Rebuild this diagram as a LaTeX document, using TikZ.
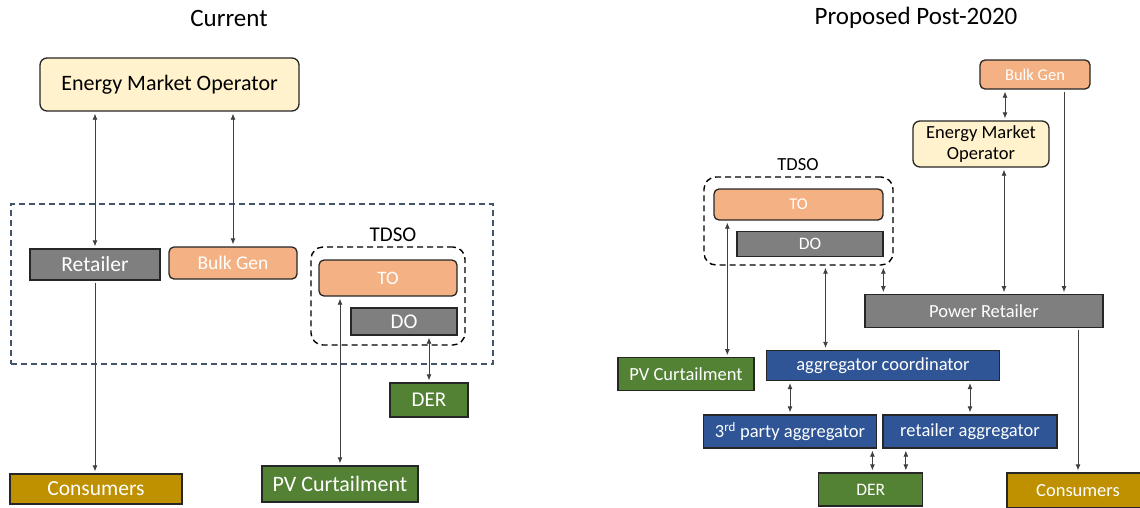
\documentclass[tikz,border=0pt]{standalone}
\usepackage{fontspec}
\setmainfont{Carlito}
\usetikzlibrary{arrows.meta}
\definecolor{emoyellow}{HTML}{FFF2CC}
\definecolor{retgray}{HTML}{7F7F7F}
\definecolor{genorange}{HTML}{F4B183}
\definecolor{dergreen}{HTML}{548235}
\definecolor{aggblue}{HTML}{2F5597}
\definecolor{congold}{HTML}{BF9000}
\definecolor{zoneblue}{HTML}{44546A}
\newcommand{\fsz}[1]{\fontsize{#1}{#1}\selectfont}

\begin{document}
\begin{tikzpicture}[x=1pt, y=-1pt,
  box/.style={draw=black!85, line width=1.3pt, inner sep=0pt, text=white},
  soft/.style={box, rounded corners=5pt},
  link/.style={draw=black!75, line width=0.8pt, shorten <=2pt, shorten >=2pt},
  zone/.style={line width=1.4pt, dash pattern=on 6pt off 4pt, inner sep=0pt},
  >={Latex[length=6pt,width=5pt]}]
\useasboundingbox (0,0) rectangle (1140,507);
\clip (0,0) rectangle (1140,507);

% titles
\node[font=\fsz{25}] (curT) at (229,18) {Current};
\node[font=\fsz{25}] (newT) at (916,18) {Proposed Post-2020};

%%%% current
\node[zone, draw=zoneblue, minimum width=482pt, minimum height=160pt] (zoneL) at (252,284) {};
\node[soft, fill=emoyellow, text=black, rounded corners=7pt, minimum width=259pt, minimum height=53pt, font=\fsz{22}] (emoL) at (169.5,84.5) {Energy Market Operator};
\node[box, fill=retgray, minimum width=130pt, minimum height=31pt, font=\fsz{21.5}] (retL) at (95,264.5) {Retailer};
\node[soft, fill=genorange, minimum width=128pt, minimum height=32pt, font=\fsz{19.5}] (bgL) at (233,263) {Bulk Gen};

% tdso group
\node[font=\fsz{21}] (tdsoTL) at (393,235) {TDSO};
\node[zone, draw=black, rounded corners=12pt, minimum width=154pt, minimum height=98pt] (tdsoL) at (388,296) {};
\node[soft, fill=genorange, minimum width=138pt, minimum height=36pt, font=\fsz{19}] (toL) at (388,278) {TO};
\node[box, fill=retgray, minimum width=106pt, minimum height=27pt, font=\fsz{21}] (doL) at (404,321.5) {DO};

\node[box, fill=dergreen, minimum width=78pt, minimum height=34pt, font=\fsz{21}] (derL) at (429,400) {DER};
\node[box, fill=dergreen, minimum width=156pt, minimum height=36pt, font=\fsz{22}] (pvL) at (340,484) {PV Curtailment};
\node[box, fill=congold, minimum width=172pt, minimum height=30pt, font=\fsz{21.5}] (conL) at (96,489) {Consumers};

% links
\draw[link, <->] (retL.north) -- (retL.north |- emoL.south);
\draw[link, <->] (bgL.north) -- (bgL.north |- emoL.south);
\draw[link, ->] (retL.south) -- (retL.south |- conL.north);
\draw[link, <->] (pvL.north) -- (pvL.north |- toL.south);
\draw[link, <->] (derL.north) -- (derL.north |- doL.south);

%%%% proposed
\node[soft, fill=genorange, minimum width=110pt, minimum height=29pt, font=\fsz{16.5}] (bgR) at (1035,74.5) {Bulk Gen};
\node[soft, fill=emoyellow, text=black, rounded corners=7pt, minimum width=136pt, minimum height=46pt, align=center, font=\fsz{18.5}] (emoR) at (981,144) {Energy Market\\[2pt]Operator};

% tdso group
\node[font=\fsz{18.5}] (tdsoTR) at (798,165) {TDSO};
\node[zone, draw=black, rounded corners=12pt, minimum width=189pt, minimum height=88pt] (tdsoR) at (798.5,221) {};
\node[soft, fill=genorange, minimum width=169pt, minimum height=31pt, font=\fsz{16.5}] (toR) at (798.5,204.5) {TO};
\node[box, fill=retgray, minimum width=146pt, minimum height=25pt, font=\fsz{17.5}] (doR) at (810,244) {DO};

\node[box, fill=retgray, minimum width=238pt, minimum height=32.5pt, font=\fsz{18.5}] (prR) at (984,311) {Power Retailer};
\node[box, fill=dergreen, minimum width=136pt, minimum height=32.5pt, font=\fsz{18.5}] (pvR) at (686,374) {PV Curtailment};
\node[box, fill=aggblue, minimum width=233.5pt, minimum height=30pt, font=\fsz{18.5}] (acR) at (883,365.5) {aggregator coordinator};
\node[box, fill=aggblue, minimum width=173.5pt, minimum height=33pt, font=\fsz{18.5}] (tpR) at (790,431.5) {3\textsuperscript{rd} party aggregator};
\node[box, fill=aggblue, minimum width=174pt, minimum height=33pt, font=\fsz{18.5}] (raR) at (970,431.5) {retailer aggregator};
\node[box, fill=dergreen, minimum width=104pt, minimum height=33pt, font=\fsz{17.5}] (derR) at (870.7,489.5) {DER};
\node[box, fill=congold, minimum width=142pt, minimum height=35pt, font=\fsz{18.5}] (conR) at (1078,490.5) {Consumers};

% links
\draw[link, <->] ([xshift=24pt]emoR.north) -- ([xshift=24pt]emoR.north |- bgR.south);
\draw[link, <->] ([xshift=23pt]emoR.south) -- ([xshift=23pt]emoR.south |- prR.north);
\draw[link, ->] ([xshift=29pt]bgR.south) -- ([xshift=29pt]bgR.south |- prR.north);
\draw[link, <->] ([xshift=14pt]toR.south west) -- ([xshift=14pt]toR.south west |- pvR.north);
\draw[link, <->] ([xshift=27pt]tdsoR.south) -- ([xshift=27pt]tdsoR.south |- acR.north);
\draw[link, <->] ([xshift=19pt]prR.north west) -- ([xshift=19pt]prR.north west |- tdsoR.south);
\draw[link, <->] (tpR.north) -- (tpR.north |- acR.south);
\draw[link, <->] (raR.north) -- (raR.north |- acR.south);
\draw[link, <->] ([xshift=-5pt]tpR.south east) -- ([xshift=-5pt]tpR.south east |- derR.north);
\draw[link, <->] ([xshift=23.5pt]raR.south west) -- ([xshift=23.5pt]raR.south west |- derR.north);
\draw[link, ->] (conR.north |- prR.south) -- (conR.north);

\end{tikzpicture}
\end{document}
